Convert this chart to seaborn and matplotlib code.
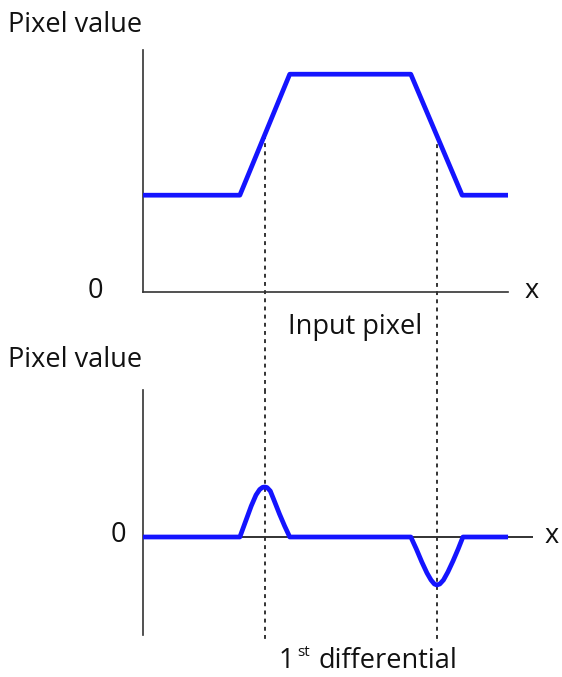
import matplotlib
matplotlib.use("Agg")
import matplotlib.pyplot as plt
import seaborn as sns
import pandas as pd

sns.set_theme(style="white")
plt.rcParams['font.family'] = ['Open Sans', 'DejaVu Sans']

# ---- data (x in arbitrary position units) ----
input_x = [0.0, 2.64, 4.0, 7.3, 8.7, 9.95]
input_y = [4.0, 4.0, 9.0, 9.0, 4.0, 4.0]

diff_x = [0.0, 2.64, 2.8, 2.95, 3.08, 3.18, 3.26, 3.32, 3.38, 3.47, 3.58, 3.72, 3.86, 4.0,
          7.3, 7.45, 7.6, 7.74, 7.85, 7.94, 8.01, 8.09, 8.19, 8.31, 8.45, 8.59, 8.72, 9.95]
diff_y = [0.0, 0.0, 1.6, 3.1, 4.2, 4.75, 4.97, 5.0, 4.95, 4.6, 3.6, 2.3, 1.1, 0.0,
          0.0, -1.2, -2.5, -3.6, -4.3, -4.7, -4.8, -4.7, -4.3, -3.5, -2.4, -1.2, 0.0, 0.0]

edge_x = [3.32, 8.01]          # positions of the dashed guide lines
edge_top_y = [6.5, 6.46]       # where they cut the input profile

blue = "#1414ff"
W, H = 562, 677
fig = plt.figure(figsize=(W / 100, H / 100), dpi=100)

def px_box(x0, y0, x1, y1):
    return [x0 / W, 1 - y1 / H, (x1 - x0) / W, (y1 - y0) / H]

# ---- top panel ----
ax1 = fig.add_axes(px_box(143, 50, 508, 292))
df1 = pd.DataFrame({"x": input_x, "y": input_y})
sns.lineplot(data=df1, x="x", y="y", ax=ax1, color=blue, linewidth=3.4,
             estimator=None, sort=False, zorder=3)
ax1.set_xlim(0, 9.95)
ax1.set_ylim(0, 10)

# ---- bottom panel ----
ax2 = fig.add_axes(px_box(143, 390, 533, 635))
df2 = pd.DataFrame({"x": diff_x, "y": diff_y})
ax2.set_xlim(0, 10.63)
ax2.set_ylim(-9.8, 14.7)
ax2.axhline(0, color="#222222", linewidth=1.3, zorder=1)
sns.lineplot(data=df2, x="x", y="y", ax=ax2, color=blue, linewidth=3.4,
             estimator=None, sort=False, zorder=3)

for ax in (ax1, ax2):
    ax.set_facecolor("none")
    ax.set_xticks([])
    ax.set_yticks([])
    ax.set_xlabel("")
    ax.set_ylabel("")
    for s in ("top", "right"):
        ax.spines[s].set_visible(False)
    ax.spines["left"].set_color("#333333")
    ax.spines["left"].set_linewidth(1.2)
    ax.spines["bottom"].set_color("#333333")
    ax.spines["bottom"].set_linewidth(1.2)
    for ln in ax.get_lines():
        ln.set_solid_joinstyle("round")
        ln.set_solid_capstyle("butt")
ax2.spines["bottom"].set_visible(False)

# dashed guide lines
for ex, ey in zip(edge_x, edge_top_y):
    ax1.plot([ex, ex], [ey, -4.1], color="#333333", linewidth=1.4,
             linestyle=(0, (2.0, 2.2)), clip_on=False, zorder=2)
    ax2.plot([ex, ex], [14.7, -10.3], color="#333333", linewidth=1.4,
             linestyle=(0, (2.0, 2.2)), clip_on=False, zorder=2)

fs = 19.5
def t(x, y, s, **kw):
    fig.text(x / W, 1 - y / H, s, fontsize=kw.pop("fontsize", fs),
             color="#111111", **kw)

t(8, 32, "Pixel value", ha="left", va="baseline")
t(95, 291, "0", ha="center", va="center")
t(532, 291, "x", ha="center", va="center")
t(355, 334, "Input pixel", ha="center", va="baseline")

t(8, 367, "Pixel value", ha="left", va="baseline")
t(118, 535, "0", ha="center", va="center")
t(552, 536, "x", ha="center", va="center")

t(279, 668, "1", ha="left", va="baseline")
t(297, 656, "st", ha="left", va="baseline", fontsize=11)
t(457, 668, "differential", ha="right", va="baseline")

fig.savefig("out.png", dpi=100)
